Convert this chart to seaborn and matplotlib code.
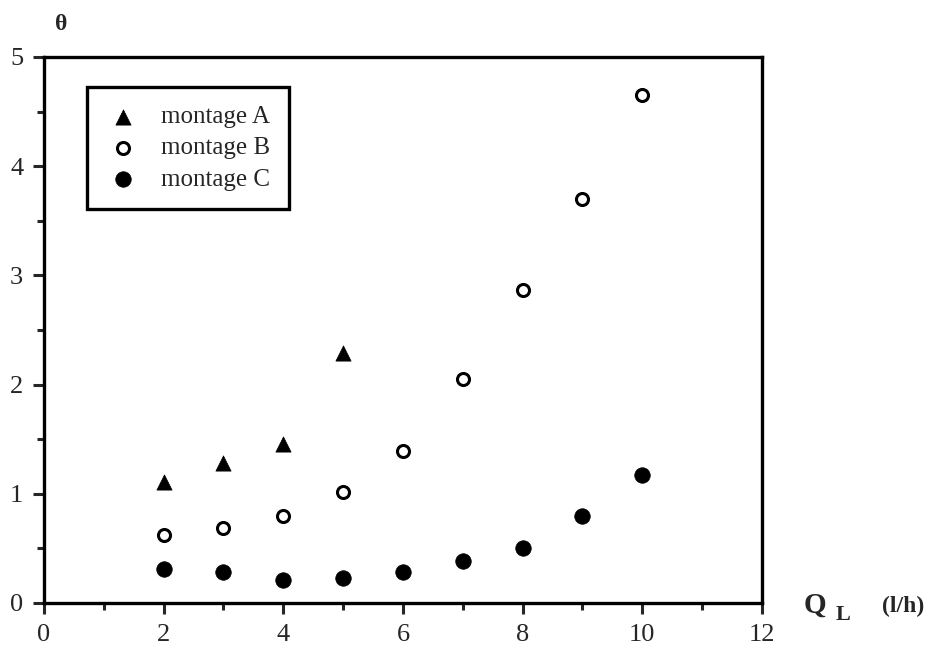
import matplotlib
matplotlib.use('Agg')
import matplotlib.pyplot as plt
import seaborn as sns
import pandas as pd
from matplotlib.ticker import MultipleLocator

# values
x_a = [2, 3, 4, 5]
theta_a = [1.11, 1.28, 1.46, 2.29]
x_b = [2, 3, 4, 5, 6, 7, 8, 9, 10]
theta_b = [0.62, 0.69, 0.80, 1.02, 1.39, 2.05, 2.87, 3.70, 4.65]
x_c = [2, 3, 4, 5, 6, 7, 8, 9, 10]
theta_c = [0.31, 0.28, 0.21, 0.23, 0.28, 0.38, 0.50, 0.80, 1.17]
labels = ['montage A', 'montage B', 'montage C']

sns.set_style('ticks')
plt.rcParams['font.family'] = ['Liberation Serif', 'DejaVu Serif']

fig = plt.figure(figsize=(9.46, 6.54), dpi=100)
ax = fig.add_axes([0.0465, 0.078, 0.759, 0.835])

df_a = pd.DataFrame({'x': x_a, 'y': theta_a})
df_b = pd.DataFrame({'x': x_b, 'y': theta_b})
df_c = pd.DataFrame({'x': x_c, 'y': theta_c})

sns.scatterplot(data=df_a, x='x', y='y', ax=ax, marker='^', s=120, color='black',
                edgecolor='black', linewidth=0.5, label=labels[0])
sns.scatterplot(data=df_b, x='x', y='y', ax=ax, marker='o', s=75, facecolor='white',
                edgecolor='black', linewidth=2.2, label=labels[1])
sns.scatterplot(data=df_c, x='x', y='y', ax=ax, marker='o', s=125, color='black',
                edgecolor='black', linewidth=0.5, label=labels[2])

ax.set_xlim(0, 12)
ax.set_ylim(0, 5)
ax.xaxis.set_major_locator(MultipleLocator(2))
ax.xaxis.set_minor_locator(MultipleLocator(1))
ax.yaxis.set_major_locator(MultipleLocator(1))
ax.yaxis.set_minor_locator(MultipleLocator(0.5))
ax.tick_params(which='major', direction='out', length=8, width=2.2, labelsize=19,
               top=False, right=False, pad=7)
ax.tick_params(which='minor', direction='out', length=5, width=2.2, top=False, right=False)
for sp in ax.spines.values():
    sp.set_visible(True)
    sp.set_linewidth(2.4)
    sp.set_color('black')
ax.set_xlabel('')
ax.set_ylabel('')

leg = ax.legend(loc='upper left', bbox_to_anchor=(0.06, 0.945), borderaxespad=0,
                fontsize=18, frameon=True, fancybox=False, framealpha=1,
                edgecolor='black', handletextpad=0.8, labelspacing=0.35,
                borderpad=0.75, handlelength=1.4)
leg.get_frame().set_linewidth(2.4)

fig.text(61 / 946, 1 - 25 / 654, 'θ', fontsize=17, fontweight='bold', ha='center', va='center')
fig.text(804 / 946, 1 - 605 / 654, 'Q', fontsize=21, fontweight='bold', ha='left', va='center')
fig.text(836 / 946, 1 - 615 / 654, 'L', fontsize=16, fontweight='bold', ha='left', va='center')
fig.text(882 / 946, 1 - 606 / 654, '(l/h)', fontsize=17, fontweight='bold', ha='left', va='center')

fig.savefig('out.png', dpi=100)
